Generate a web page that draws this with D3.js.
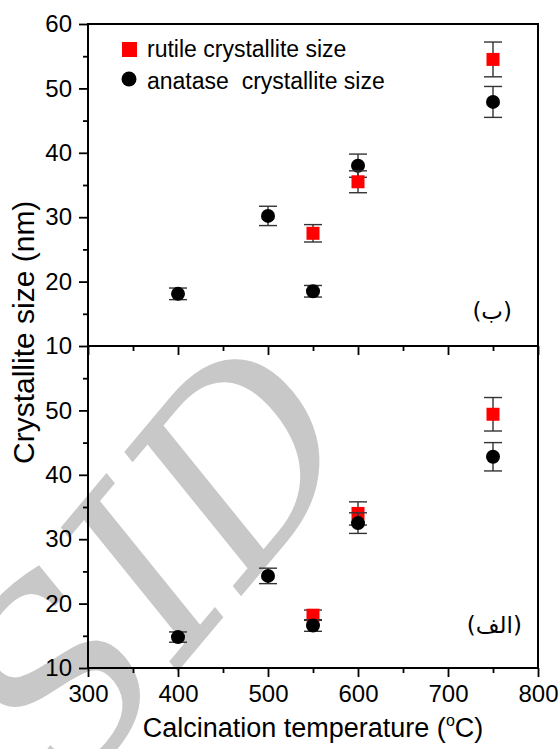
<!DOCTYPE html>
<html lang="en">
<head>
    <meta charset="UTF-8">
    <title>Crystallite size vs calcination temperature</title>
    <script src="https://d3js.org/d3.v7.min.js"></script>
    <style>
        body { margin: 0; background: #fff; }
        text { font-family: "Liberation Sans", Arial, sans-serif; fill: #000; }
    </style>
</head>
<body>
    <div id="chart"></div>

    <script>
        // top panel (ب)
        const anataseTempsB = [400, 500, 550, 600, 750];
        const anataseSizeB = [18.1, 30.2, 18.5, 38.0, 47.9];
        const anataseErrB = [0.9, 1.5, 0.9, 1.8, 2.4];
        const rutileTempsB = [550, 600, 750];
        const rutileSizeB = [27.5, 35.5, 54.5];
        const rutileErrB = [1.35, 1.7, 2.7];

        // bottom panel (الف)
        const anataseTempsA = [400, 500, 550, 600, 750];
        const anataseSizeA = [14.8, 24.3, 16.6, 32.5, 42.8];
        const anataseErrA = [0.8, 1.2, 0.9, 1.6, 2.2];
        const rutileTempsA = [550, 600, 750];
        const rutileSizeA = [18.2, 34.0, 49.4];
        const rutileErrA = [0.8, 1.8, 2.6];

        const xTicks = [300, 400, 500, 600, 700, 800];
        const yTicksTop = [10, 20, 30, 40, 50, 60];
        const yTicksBottom = [10, 20, 30, 40, 50];
        const legendLabels = ["rutile crystallite size", "anatase  crystallite size"];

        const width = 560, height = 749;
        const left = 88, right = 538;

        const svg = d3.select("#chart").append("svg")
            .attr("width", width)
            .attr("height", height);

        // watermark
        svg.append("text")
            .attr("transform", "translate(70, 800) rotate(-50)")
            .style("font-family", "'DejaVu Serif', serif")
            .style("font-style", "italic")
            .style("font-size", "250px")
            .style("fill", "#c8c8c8")
            .text("SID");

        const x = d3.scaleLinear().domain([300, 800]).range([left, right]);
        const yTop = d3.scaleLinear().domain([10, 60]).range([346, 24]);
        const yBot = d3.scaleLinear().domain([10, 60]).range([668, 346]);

        function drawPanel(y, yTicks, showXLabels) {
            const g = svg.append("g");
            const y0 = y.range()[0], y1 = y.range()[1];

            // minor ticks
            g.append("g").attr("transform", `translate(${left},0)`)
                .call(d3.axisLeft(y).tickValues([15, 25, 35, 45, 55]).tickSize(5).tickFormat(""))
                .call(a => a.select(".domain").remove());
            g.append("g").attr("transform", `translate(0,${y0})`)
                .call(d3.axisBottom(x).tickValues([350, 450, 550, 650, 750]).tickSize(5).tickFormat(""))
                .call(a => a.select(".domain").remove());

            // major ticks
            const ya = g.append("g").attr("transform", `translate(${left},0)`)
                .call(d3.axisLeft(y).tickValues(yTicks).tickSize(9).tickPadding(7).tickFormat(d3.format("d")));
            ya.select(".domain").remove();
            ya.selectAll("text").style("font-size", "24px");

            const xa = g.append("g").attr("transform", `translate(0,${y0})`)
                .call(d3.axisBottom(x).tickValues(xTicks).tickSize(9).tickPadding(8)
                    .tickFormat(showXLabels ? d3.format("d") : ""));
            xa.select(".domain").remove();
            xa.selectAll("text").style("font-size", "24px");

            g.selectAll(".tick line").attr("stroke", "#000").attr("stroke-width", 1.8);

            // frame
            g.append("rect")
                .attr("x", left).attr("y", y1)
                .attr("width", right - left).attr("height", y0 - y1)
                .attr("fill", "none").attr("stroke", "#000").attr("stroke-width", 2);
            return g;
        }

        function errorBars(g, y, temps, vals, errs) {
            const eb = g.append("g").attr("stroke", "#333").attr("stroke-width", 1.4);
            temps.forEach((t, i) => {
                const cx = x(t);
                eb.append("line").attr("x1", cx).attr("x2", cx)
                    .attr("y1", y(vals[i] + errs[i])).attr("y2", y(vals[i] - errs[i]));
                [vals[i] + errs[i], vals[i] - errs[i]].forEach(v => {
                    eb.append("line").attr("x1", cx - 9).attr("x2", cx + 9)
                        .attr("y1", y(v)).attr("y2", y(v));
                });
            });
        }

        function circles(g, y, temps, vals) {
            g.append("g").selectAll("circle")
                .data(temps)
                .enter()
                .append("circle")
                .attr("cx", d => x(d))
                .attr("cy", (d, i) => y(vals[i]))
                .attr("r", 7)
                .attr("fill", "#000");
        }

        function squares(g, y, temps, vals) {
            g.append("g").selectAll("rect")
                .data(temps)
                .enter()
                .append("rect")
                .attr("x", d => x(d) - 6.5)
                .attr("y", (d, i) => y(vals[i]) - 6.5)
                .attr("width", 13)
                .attr("height", 13)
                .attr("fill", "#ff0000");
        }

        // bottom panel
        const gA = drawPanel(yBot, yTicksBottom, true);
        errorBars(gA, yBot, rutileTempsA, rutileSizeA, rutileErrA);
        squares(gA, yBot, rutileTempsA, rutileSizeA);
        errorBars(gA, yBot, anataseTempsA, anataseSizeA, anataseErrA);
        circles(gA, yBot, anataseTempsA, anataseSizeA);

        // top panel
        const gB = drawPanel(yTop, yTicksTop, false);
        errorBars(gB, yTop, anataseTempsB, anataseSizeB, anataseErrB);
        circles(gB, yTop, anataseTempsB, anataseSizeB);
        errorBars(gB, yTop, rutileTempsB, rutileSizeB, rutileErrB);
        squares(gB, yTop, rutileTempsB, rutileSizeB);

        // panel labels
        svg.append("text")
            .attr("x", 512).attr("y", 319)
            .attr("text-anchor", "end")
            .style("font-family", "'DejaVu Sans', sans-serif")
            .style("font-size", "23px")
            .text("(ب)");
        svg.append("text")
            .attr("x", 522).attr("y", 633)
            .attr("text-anchor", "end")
            .style("font-family", "'DejaVu Sans', sans-serif")
            .style("font-size", "23px")
            .text("(الف)");

        // legend
        const legend = svg.append("g");
        legend.append("rect").attr("x", 122).attr("y", 42).attr("width", 15).attr("height", 15).attr("fill", "#ff0000");
        legend.append("circle").attr("cx", 129).attr("cy", 79).attr("r", 7.5).attr("fill", "#000");
        legendLabels.forEach((t, i) => {
            legend.append("text")
                .attr("x", 147).attr("y", 57 + i * 32)
                .style("font-size", "23px")
                .style("white-space", "pre")
                .text(t);
        });

        // axis titles
        const xt = svg.append("text")
            .attr("x", (left + right) / 2).attr("y", 737)
            .attr("text-anchor", "middle")
            .style("font-size", "27px");
        xt.append("tspan").text("Calcination temperature (");
        xt.append("tspan").attr("dy", -11).style("font-size", "16px").text("o");
        xt.append("tspan").attr("dy", 11).text("C)");

        svg.append("text")
            .attr("transform", "translate(34, 464) rotate(-90)")
            .attr("text-anchor", "start")
            .style("font-size", "30px")
            .text("Crystallite size (nm)");
    </script>
</body>
</html>
